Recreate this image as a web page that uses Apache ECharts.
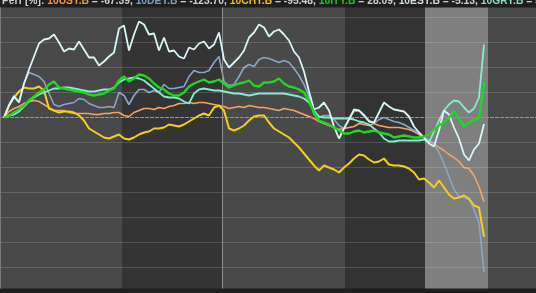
<!DOCTYPE html>
<html><head><meta charset="utf-8">
<script src="https://cdn.jsdelivr.net/npm/echarts@6/dist/echarts.min.js"></script>
<style>html,body{margin:0;padding:0;background:#1e1e1e;}#c{width:536px;height:293px;}</style>
</head><body><div id="c"></div>
<script>
const names = ['10USY.B','10DEY.B','10CHY.B','10ITY.B','10ESY.B','10GRY.B'];
const perf = [-67.39,-123.70,-95.48,28.09,-5.13,58.25];

const usy = [0,4.8,7.2,8.8,11.2,12.8,13.6,12.8,10.4,8, 5.6,5.6,5.6,4,3.2,3.2,3.2,3.2,2.4,2.4, 3.2,3.2,4,4,1.6,0.8,4,5.6,7.2,7.2, 6.4,8,7.2,8.8,9.6,11.2,11.2,12,11.2,12, 12,11.2,10.4,9.6,8.8,7.2,8,8.8,8,9.6, 8.8,8,8,7.2,6.4,5.6,7.2,6.4,5.6,4, 2.4,0.8,-0.8,-3.2,-4.8,-6.4,-8,-9.6,-8.8,-8, -7.2,-4.8,-5.6,-6.4,-4.8,-6.4,-7.2,-8,-8,-8, -8.8,-9.6,-11.2,-13.6,-16,-18.4,-20.8,-24,-26.4,-29.6, -32,-35.2,-40,-40.8,-46.4,-55.2,-67.39];
const dey = [0,10.4,17.6,12.8,27.2,36,34.4,32.8,28.8,19.2, 10.4,8.8,10.4,11.2,12,15.2,14.4,11.2,9.6,8, 8,8.8,8,20,17.6,10.4,17.6,22.4,22.4,20, 21.6,20,26.4,23.2,23.2,24,24.8,32.8,37.6,36, 36,37.6,44,48.8,28.8,25.6,26.4,32.8,40,42.4, 40.8,46.4,48,47.2,45.6,44,45.6,44,39.2,33.6, 26.4,16.8,2.4,0,1.6,1.6,-1.6,-6.4,-8.8,-0.8, 4.8,5.6,2.4,-2.4,-4.8,-1.6,0,-1.6,-3.2,-4, -5.6,-8,-10.4,-12.8,-16,-18.4,-21.6,-28,-36.8,-47.2, -57.6,-63.2,-64,-65.6,-73.6,-84,-123.7];
const chy = [0,9.6,16,20.8,24,23.2,23.2,24.8,21.6,7.2, 5.6,4,4.8,4.8,4,1.6,-2.4,-8.8,-11.2,-13.6, -16,-16.8,-15.2,-13.6,-16.8,-17.6,-16,-13.6,-12,-11.2, -8.8,-8.8,-8,-5.6,-6.4,-7.2,-5.6,-3.2,-0.8,1.6, 3.2,1.6,8,9.6,5.6,-8.8,-10.4,-8.8,-6.4,-2.4, 0.8,1.6,1.6,-4,-8.8,-11.2,-13.6,-16,-20,-24, -28.8,-33.6,-38.4,-42.4,-38.4,-40,-41.6,-44,-40,-36.8, -32.8,-29.6,-30.4,-33.6,-36,-35.2,-32.8,-37.6,-38.4,-38.4, -39.2,-40.8,-44,-49.6,-48.8,-52,-56,-50.4,-56,-61.6, -64.8,-64,-62.4,-64.8,-70.4,-72,-95.48];
const ity = [0,1.6,4,6.4,9.6,13.6,16.8,20,22.4,26.4, 28.8,24,23.2,22.4,21.6,20.8,20,18.4,17.6,18.4, 19.2,21.6,23.2,29.6,32.8,28.8,31.2,34.4,33.6,31.2, 27.2,24,22.4,19.2,17.6,17.6,20,24.8,27.2,28.8, 30.4,28,28.8,30.4,27.2,24,25.6,27.2,28,29.6, 25.6,24.8,28,28,28.8,31.2,27.2,24.8,24,22.4, 20,13.6,4,-2.4,-4,-5.6,-8,-10.4,-12.8,-12.8, -11.2,-10.4,-12,-11.2,-10.4,-12,-12.8,-13.6,-16,-15.2, -14.4,-15.2,-16,-16,-15.2,-13.6,-9.6,-6.4,-4,0, 4.8,-0.8,-7.2,-4,-1.6,-0.8,28.09];
const esy = [0,9.6,16.8,12,27.2,38.4,48.8,59.2,62.4,63.2, 66.4,60,52.8,55.2,54.4,60.8,54.4,48,48,41.6, 44.8,48.8,52,71.2,73.6,53.6,66.4,76.8,74.4,66.4, 67.2,53.6,64,52.8,53.6,48.8,47.2,56,54.4,59.2, 60.8,55.2,58.4,68,46.4,40,44,48,53.6,64, 68,74.4,72,64.8,68.8,70.4,66.4,61.6,52.8,48, 36.8,20.8,6.4,8,12,5.6,-7.2,-16.8,-8.8,-1.6, 6.4,5.6,1.6,-3.2,-4,4,12,8.8,6.4,5.6, 4.8,0.8,-7.2,-12,-16,-20.8,-23.2,-10.4,5.6,2.4, -8,-16.8,-29.6,-34.4,-25.6,-20.8,-5.13];
const gry = [0,1.6,2.4,4.8,8.8,12.8,16,18.4,20,21.6, 23.2,23.2,24,24,23.2,22.4,21.6,20.8,20.8,21.6, 22.4,22.4,24,28,30.4,31.2,32,31.2,29.6,26.4, 23.2,20,16.8,16,16,15.2,12.8,11.2,19.2,22.4, 23.2,22.4,21.6,21.6,20.8,20,19.2,19.2,18.4,17.6, 18.4,19.2,19.2,19.2,19.2,19.2,19.2,18.4,17.6,16.8, 15.2,12,5.6,0.8,0,0,-0.8,-0.8,-0.8,-0.8, -1.6,-3.2,-4,-5.6,-8.8,-12,-16.8,-19.2,-19.2,-18.4, -18.4,-18.4,-18.4,-18.4,-17.6,-20,-11.2,-2.4,5.6,10.4, 13.6,12.8,8,4,7.2,16,58.25];

const yTicks = [80,60,40,20,0,-20,-40,-60,-80,-100,-120];
const periodBreaks = [-0.8,23.6,43.6,68.2,84.2,96.8,106.4];
const yearMark = 43.6;

const seriesVals = [usy, dey, chy, ity, esy, gry];
const lineColors = ['#f2a468','#8ba5c9','#f5cf1c','#1fd81f','#d9f6f6','#86ecd0'];
const titleColors = ['#e89a52','#7f9cbe','#e8bc22','#22c022','#d2dce2','#8ed8bc'];
const lineWidths = [1.6,1.6,2,2.4,1.8,1.8];
const zOrder = [3,4,5,8,7,6];
const bandColors = ['#484848','#343434','#494949','#333333','#7f7f7f','#484848'];

const chart = echarts.init(document.getElementById('c'), null, {renderer:'canvas'});

const fontFam = 'Liberation Sans';
const rich = {w:{color:'#cfcfcf', fontSize:10.3, fontFamily:fontFam}};
titleColors.forEach((c,i)=>{ rich['s'+i] = {color:c, fontSize:10.3, fontFamily:fontFam}; });
const titleText = '{w|Perf [%]: }' + names.map((n,i)=>'{s'+i+'|'+n+'}{w| = '+perf[i].toFixed(2)+(i<names.length-1?', ':'')+'}').join('');

const bands = [];
for (let i=0;i<periodBreaks.length-1;i++){
  bands.push([{xAxis:periodBreaks[i], itemStyle:{color:bandColors[i]}},{xAxis:periodBreaks[i+1]}]);
}
const gridLines = yTicks.map(v => v===0
  ? {yAxis:v, lineStyle:{color:'#b59a24', width:1, type:[4,1], opacity:1}}
  : {yAxis:v, lineStyle:{color:'rgba(255,255,255,0.15)', width:1, type:'solid'}});
gridLines.push({xAxis:yearMark, lineStyle:{color:'#8e8e8e', width:1, type:'solid'}});
gridLines.push({xAxis:periodBreaks[0]+0.12, lineStyle:{color:'#7a7a7a', width:1, type:'solid'}});

const series = [
  {type:'line', name:'bands', data:[], z:0, silent:true,
   markArea:{silent:true, animation:false, data:bands, label:{show:false}}},
  {type:'line', name:'grid', data:[], z:1, silent:true,
   markLine:{silent:true, animation:false, symbol:['none','none'], label:{show:false}, data:gridLines}}
];
seriesVals.forEach((vals,k)=>{
  series.push({type:'line', name:names[k], data:vals.map((v,i)=>[i,v]), showSymbol:false, symbol:'none',
    z:zOrder[k], animation:false, lineStyle:{color:lineColors[k], width:lineWidths[k]}});
});

chart.setOption({
  backgroundColor:'#1e1e1e',
  animation:false,
  title:{text:titleText, left:2, top:-4, padding:0, textStyle:{rich:rich, fontSize:10.3, color:'#cfcfcf'}},
  grid:{left:0, right:0, top:7.5, bottom:4.5},
  xAxis:{type:'value', min:periodBreaks[0], max:periodBreaks[periodBreaks.length-1], show:false},
  yAxis:{type:'value', min:-136.8, max:88, show:false, splitLine:{show:false}},
  series:series
});
</script></body></html>
